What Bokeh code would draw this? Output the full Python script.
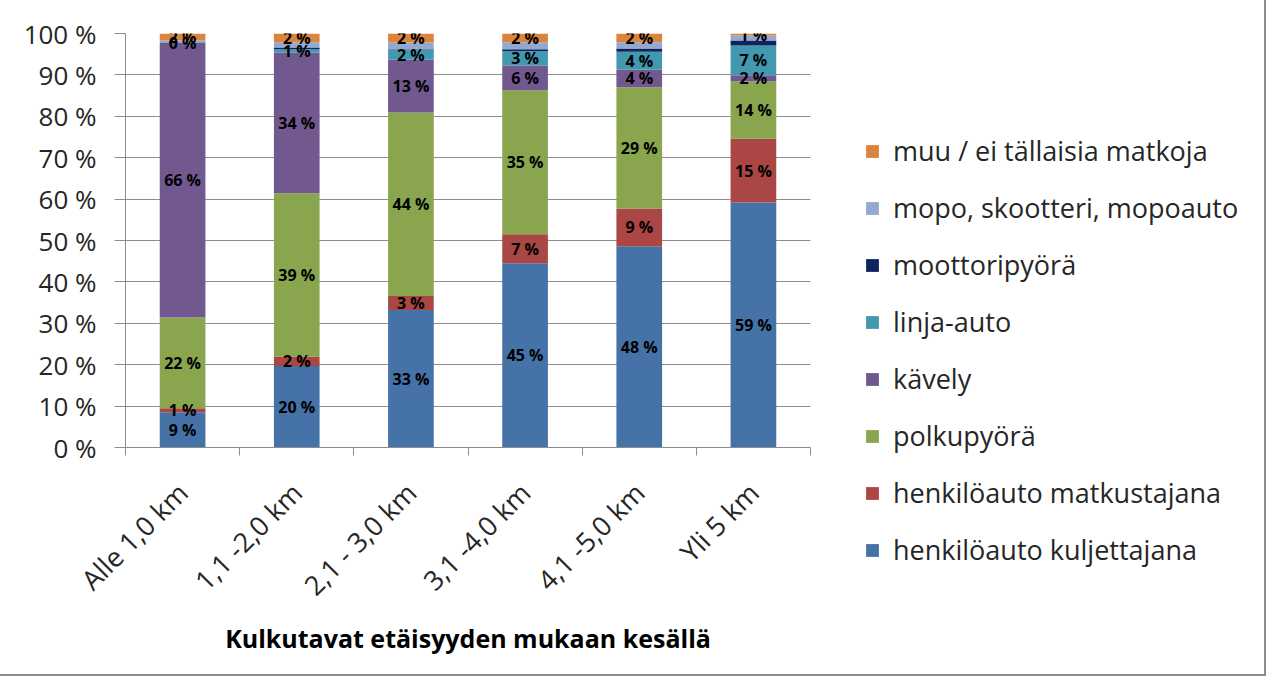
import math
import numpy as np
from bokeh.plotting import figure
from bokeh.models import Range1d, FixedTicker, PrintfTickFormatter, Legend, LegendItem, ColumnDataSource
from bokeh.core.properties import value
from bokeh.embed import file_html
from bokeh.resources import INLINE

categories = ["Alle 1,0 km", "1,1 -2,0 km", "2,1 - 3,0 km", "3,1 -4,0 km", "4,1 -5,0 km", "Yli 5 km"]

series_names = [
    "henkilöauto kuljettajana",
    "henkilöauto matkustajana",
    "polkupyörä",
    "kävely",
    "linja-auto",
    "moottoripyörä",
    "mopo, skootteri, mopoauto",
    "muu / ei tällaisia matkoja",
]
series_colors = ["#4572A7", "#AA4643", "#89A54E", "#71588F", "#4198AF", "#0E2461", "#93A9CF", "#DB843D"]

kuljettajana = [8.5, 19.7, 33.2, 44.5, 48.6, 59.2]
matkustajana = [1.0, 2.3, 3.4, 7.0, 9.1, 15.4]
polkupyora = [21.9, 39.4, 44.3, 34.8, 29.3, 13.8]
kavely = [66.3, 34.0, 12.8, 6.0, 4.3, 1.5]
linja_auto = [0.2, 0.8, 2.4, 3.5, 4.3, 7.2]
moottoripyora = [0.0, 0.4, 0.1, 0.4, 0.8, 1.2]
mopo = [0.4, 1.3, 1.6, 1.7, 1.5, 1.2]
muu = [1.7, 2.1, 2.2, 2.1, 2.1, 0.5]

labels_kuljettajana = ["9 %", "20 %", "33 %", "45 %", "48 %", "59 %"]
labels_matkustajana = ["1 %", "2 %", "3 %", "7 %", "9 %", "15 %"]
labels_polkupyora = ["22 %", "39 %", "44 %", "35 %", "29 %", "14 %"]
labels_kavely = ["66 %", "34 %", "13 %", "6 %", "4 %", "2 %"]
labels_linja_auto = ["0 %", "1 %", "2 %", "3 %", "4 %", "7 %"]
labels_moottoripyora = ["", "", "", "", "", ""]
labels_mopo = ["", "", "", "", "", ""]
labels_muu = ["2 %", "2 %", "2 %", "2 %", "2 %", "1 %"]

y_ticks = [0, 10, 20, 30, 40, 50, 60, 70, 80, 90, 100]

values = [kuljettajana, matkustajana, polkupyora, kavely, linja_auto, moottoripyora, mopo, muu]
label_lists = [labels_kuljettajana, labels_matkustajana, labels_polkupyora, labels_kavely,
               labels_linja_auto, labels_moottoripyora, labels_mopo, labels_muu]

FONT = "Open Sans"
TXT = "#262626"
GRID = "#8c8c8c"

xs = list(range(1, len(categories) + 1))
keys = ["s%d" % i for i in range(len(series_names))]
data = {"x": xs}
for k, v in zip(keys, values):
    data[k] = v
src = ColumnDataSource(data)

# ---------------- main chart ----------------
p = figure(width=1270, height=680, output_backend="svg", toolbar_location=None,
           x_range=Range1d(0.5, len(categories) + 0.5), y_range=Range1d(0, 100),
           min_border_left=127, min_border_right=458, min_border_top=35, min_border_bottom=231)
p.styles = {"border": "2px solid #8c8c8c", "margin-left": "-4px", "margin-top": "-4px"}
p.outline_line_color = None
p.background_fill_color = "white"
p.border_fill_color = "white"

renderers = p.vbar_stack(keys, x="x", width=0.4, source=src, color=series_colors, line_color=None)

# data labels
bottom = np.zeros(len(categories))
lx, ly, lt = [], [], []
for v, labs in zip(values, label_lists):
    v = np.array(v)
    mids = bottom + v / 2
    for i in range(len(categories)):
        if labs[i]:
            lx.append(xs[i]); ly.append(mids[i]); lt.append(labs[i])
    bottom = bottom + v
p.text(x=lx, y=ly, text=lt, text_align="center", text_baseline="middle",
       text_font=value(FONT), text_font_style="bold", text_font_size="16px", text_color="black")

p.xgrid.grid_line_color = None
p.ygrid.grid_line_color = GRID
p.ygrid.ticker = FixedTicker(ticks=y_ticks)

yax = p.yaxis[0]
yax.ticker = FixedTicker(ticks=y_ticks)
yax.formatter = PrintfTickFormatter(format="%d %%")
yax.axis_line_color = GRID
yax.major_tick_line_color = GRID
yax.major_tick_out = 11
yax.major_tick_in = 0
yax.minor_tick_line_color = None
yax.major_label_standoff = 18
yax.major_label_text_font = FONT
yax.major_label_text_font_size = "26px"
yax.major_label_text_color = TXT

xax = p.xaxis[0]
xax.ticker = FixedTicker(ticks=xs, minor_ticks=[x - 0.5 for x in xs] + [xs[-1] + 0.5])
xax.major_label_overrides = {x: c for x, c in zip(xs, categories)}
xax.major_label_orientation = math.pi / 4
xax.axis_line_color = GRID
xax.major_tick_line_color = None
xax.minor_tick_line_color = GRID
xax.minor_tick_out = 8
xax.minor_tick_in = 0
xax.major_label_standoff = 32
xax.major_label_text_font = FONT
xax.major_label_text_font_size = "27px"
xax.major_label_text_color = TXT
xax.axis_label = "Kulkutavat etäisyyden mukaan kesällä"
xax.axis_label_text_font = FONT
xax.axis_label_text_font_style = "bold"
xax.axis_label_text_font_size = "25px"
xax.axis_label_text_color = "black"
xax.axis_label_standoff = 2

# ---------------- legend (separate root overlaid on the right) ----------------
pl = figure(width=440, height=680, output_backend="svg", toolbar_location=None,
            x_range=Range1d(-20, -19), y_range=Range1d(0, 100),
            x_axis_location=None, y_axis_location=None,
            min_border_left=0, min_border_right=0, min_border_top=0, min_border_bottom=0)
pl.styles = {"position": "absolute", "left": "826px", "top": "6px"}
pl.grid.grid_line_color = None
pl.outline_line_color = None
pl.background_fill_alpha = 0
pl.border_fill_alpha = 0
legend_renderers = pl.vbar_stack(keys, x="x", width=0.4, source=src, color=series_colors, line_color=None)

items = [LegendItem(label=n, renderers=[r]) for n, r in zip(series_names, legend_renderers)][::-1]
legend = Legend(items=items, location=(38, 118), orientation="vertical",
                padding=0, margin=0, spacing=20, label_height=37,
                glyph_width=16, glyph_height=16, label_standoff=13,
                label_text_font=FONT, label_text_font_size="27px", label_text_color=TXT,
                border_line_color=None, background_fill_alpha=0)
pl.add_layout(legend, "center")

open("out.html", "w").write(file_html([p, pl], INLINE))
